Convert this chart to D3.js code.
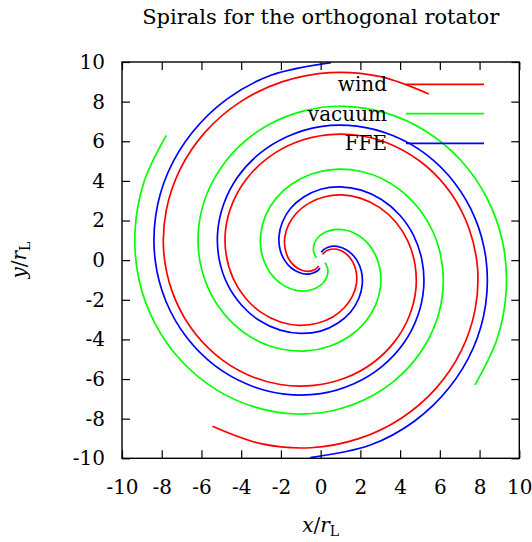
<!DOCTYPE html>
<html>
<head>
<meta charset="utf-8">
<script src="https://cdn.jsdelivr.net/npm/d3@7/dist/d3.min.js"></script>
<style>
  html, body { margin: 0; padding: 0; background: #fff; }
  svg { display: block; }
  text { font-family: "DejaVu Serif", "Liberation Serif", serif; fill: #000; }
</style>
</head>
<body>
<svg id="chart" width="532" height="542"></svg>
<script>
// ---- data (angle in degrees, radius in units of r_L) ----
const titleText = "Spirals for the orthogonal rotator";
const xTicks = [-10, -8, -6, -4, -2, 0, 2, 4, 6, 8, 10];
const yTicks = [-10, -8, -6, -4, -2, 0, 2, 4, 6, 8, 10];
const seriesNames = ["wind", "vacuum", "FFE"];
const seriesColors = ["#ff0000", "#00ff00", "#0000ff"];

const windArm1 = [[57,10.00],[72,9.74],[87,9.48],[102,9.21],[117,8.95],[132,8.69],[147,8.43],[162,8.17],[177,7.91],[192,7.64],[207,7.38],[222,7.12],[237,6.86],[252,6.60],[267,6.33],[282,6.07],[297,5.81],[312,5.55],[327,5.29],[342,5.03],[357,4.76],[372,4.50],[387,4.24],[402,3.98],[417,3.72],[432,3.46],[447,3.19],[462,2.93],[477,2.67],[492,2.41],[507,2.15],[522,1.88],[537,1.62],[552,1.36],[567,1.10],[582,0.84],[597,0.58],[612,0.31]];
const windArm2 = [[237,10.00],[252,9.74],[267,9.48],[282,9.21],[297,8.95],[312,8.69],[327,8.43],[342,8.17],[357,7.91],[372,7.64],[387,7.38],[402,7.12],[417,6.86],[432,6.60],[447,6.33],[462,6.07],[477,5.81],[492,5.55],[507,5.29],[522,5.03],[537,4.76],[552,4.50],[567,4.24],[582,3.98],[597,3.72],[612,3.46],[627,3.19],[642,2.93],[657,2.67],[672,2.41],[687,2.15],[702,1.88],[717,1.62],[732,1.36],[747,1.10],[762,0.84],[777,0.58],[792,0.31]];

const vacuumArm1 = [[141,10.00],[156,9.73],[171,9.46],[186,9.20],[201,8.93],[216,8.66],[231,8.39],[246,8.12],[261,7.86],[276,7.59],[291,7.32],[306,7.05],[321,6.78],[336,6.52],[351,6.25],[366,5.98],[381,5.71],[396,5.44],[411,5.18],[426,4.91],[441,4.64],[456,4.37],[471,4.10],[486,3.84],[501,3.57],[516,3.30],[531,3.03],[546,2.76],[561,2.50],[576,2.23],[591,1.96],[606,1.69],[621,1.42],[636,1.16],[651,0.89],[666,0.62],[681,0.35],[690,0.25]];
const vacuumArm2 = [[321,10.00],[336,9.73],[351,9.46],[366,9.20],[381,8.93],[396,8.66],[411,8.39],[426,8.12],[441,7.86],[456,7.59],[471,7.32],[486,7.05],[501,6.78],[516,6.52],[531,6.25],[546,5.98],[561,5.71],[576,5.44],[591,5.18],[606,4.91],[621,4.64],[636,4.37],[651,4.10],[666,3.84],[681,3.57],[696,3.30],[711,3.03],[726,2.76],[741,2.50],[756,2.23],[771,1.96],[786,1.69],[801,1.42],[816,1.16],[831,0.89],[846,0.62],[861,0.35],[870,0.25]];

const ffeArm1 = [[87,9.98],[105,9.66],[120,9.40],[135,9.13],[150,8.87],[165,8.60],[180,8.33],[195,8.06],[210,7.79],[225,7.53],[240,7.26],[255,7.00],[270,6.74],[285,6.46],[300,6.19],[315,5.92],[330,5.64],[345,5.37],[360,5.10],[375,4.84],[390,4.58],[405,4.33],[420,4.08],[435,3.83],[450,3.58],[465,3.30],[480,3.02],[495,2.72],[510,2.42],[525,2.12],[540,1.82],[555,1.53],[570,1.25],[585,1.00],[600,0.75],[615,0.54],[625,0.40]];
const ffeArm2 = [[267,9.98],[285,9.66],[300,9.40],[315,9.13],[330,8.87],[345,8.60],[360,8.33],[375,8.06],[390,7.79],[405,7.53],[420,7.26],[435,7.00],[450,6.74],[465,6.46],[480,6.19],[495,5.92],[510,5.64],[525,5.37],[540,5.10],[555,4.84],[570,4.58],[585,4.33],[600,4.08],[615,3.83],[630,3.58],[645,3.30],[660,3.02],[675,2.72],[690,2.42],[705,2.12],[720,1.82],[735,1.53],[750,1.25],[765,1.00],[780,0.75],[795,0.54],[805,0.40]];

const seriesArms = [[windArm1, windArm2], [vacuumArm1, vacuumArm2], [ffeArm1, ffeArm2]];

// ---- layout ----
const W = 532, H = 542;
const margin = { left: 122, right: 12.7, top: 62, bottom: 83.7 };
const iw = W - margin.left - margin.right;
const ih = H - margin.top - margin.bottom;

const svg = d3.select("#chart");
const g = svg.append("g").attr("transform", `translate(${margin.left},${margin.top})`);

const x = d3.scaleLinear().domain([-10, 10]).range([0, iw]);
const y = d3.scaleLinear().domain([-10, 10]).range([ih, 0]);

svg.append("defs").append("clipPath").attr("id", "plotclip")
  .append("rect").attr("x", 0).attr("y", 0).attr("width", iw).attr("height", ih);

// ---- curves ----
const toRad = Math.PI / 180;
const line = d3.line()
  .x(d => x(d[1] * Math.cos(d[0] * toRad)))
  .y(d => y(d[1] * Math.sin(d[0] * toRad)))
  .curve(d3.curveCatmullRom.alpha(0.5));

const curves = g.append("g").attr("clip-path", "url(#plotclip)");
seriesArms.forEach((arms, i) => {
  arms.forEach(arm => {
    curves.append("path")
      .attr("d", line(arm))
      .attr("fill", "none")
      .attr("stroke", seriesColors[i])
      .attr("stroke-width", 1.7)
      .attr("stroke-linejoin", "round");
  });
});

// ---- axes (ticks inward on all four sides) ----
const tickLen = 8;
const fmt = d => String(d);
const fontSize = 20;

const axB = g.append("g").attr("transform", `translate(0,${ih})`)
  .call(d3.axisBottom(x).tickValues(xTicks).tickFormat(fmt).tickSizeInner(-tickLen).tickSizeOuter(0).tickPadding(22));
const axT = g.append("g")
  .call(d3.axisTop(x).tickValues(xTicks).tickFormat("").tickSizeInner(-tickLen).tickSizeOuter(0));
const axL = g.append("g")
  .call(d3.axisLeft(y).tickValues(yTicks).tickFormat(fmt).tickSizeInner(-tickLen).tickSizeOuter(0).tickPadding(17));
const axR = g.append("g").attr("transform", `translate(${iw},0)`)
  .call(d3.axisRight(y).tickValues(yTicks).tickFormat("").tickSizeInner(-tickLen).tickSizeOuter(0));

[axB, axT, axL, axR].forEach(a => {
  a.select(".domain").remove();
  a.selectAll(".tick line").attr("stroke", "#000").attr("stroke-width", 1.2);
  a.selectAll("text").style("font-family", '"DejaVu Serif", serif').style("font-size", fontSize + "px").attr("fill", "#000");
});
axB.selectAll(".tick text").attr("dy", "0.71em");

// border
g.append("rect").attr("x", 0).attr("y", 0).attr("width", iw).attr("height", ih)
  .attr("fill", "none").attr("stroke", "#000").attr("stroke-width", 1.4);

// ---- title ----
svg.append("text").attr("x", margin.left + iw / 2).attr("y", 24)
  .attr("text-anchor", "middle").style("font-size", "21px").text(titleText);

// ---- axis labels ----
const xl = svg.append("text").attr("x", margin.left + iw / 2).attr("y", 532)
  .attr("text-anchor", "middle").style("font-size", "20px");
xl.append("tspan").style("font-style", "italic").text("x");
xl.append("tspan").text("/");
xl.append("tspan").style("font-style", "italic").text("r");
xl.append("tspan").attr("dy", 4).style("font-size", "14px").text("L");

const yl = svg.append("text").attr("transform", `translate(26,${margin.top + ih / 2}) rotate(-90)`)
  .attr("text-anchor", "middle").style("font-size", "20px");
yl.append("tspan").style("font-style", "italic").text("y");
yl.append("tspan").text("/");
yl.append("tspan").style("font-style", "italic").text("r");
yl.append("tspan").attr("dy", 4).style("font-size", "14px").text("L");

// ---- legend ----
const legendY = [84.3, 113.7, 143.3];
seriesNames.forEach((name, i) => {
  svg.append("text").attr("x", 387).attr("y", legendY[i]).attr("dy", "0.35em")
    .attr("text-anchor", "end").style("font-size", "20px").text(name);
  svg.append("line").attr("x1", 406).attr("x2", 484).attr("y1", legendY[i]).attr("y2", legendY[i])
    .attr("stroke", seriesColors[i]).attr("stroke-width", 1.7);
});
</script>
</body>
</html>
